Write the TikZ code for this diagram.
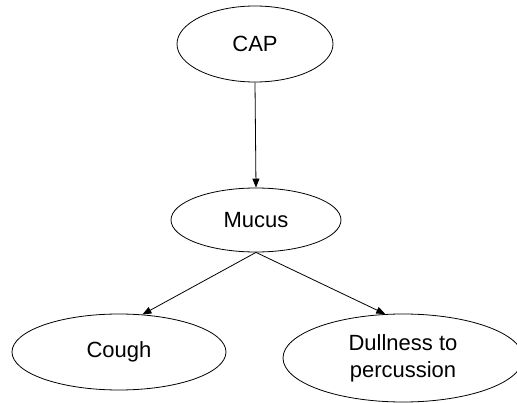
\documentclass[tikz,border=0pt]{standalone}
\usepackage{fontspec}
\setmainfont{Liberation Sans}
\usetikzlibrary{shapes.geometric,arrows.meta}
\begin{document}
\begin{tikzpicture}[x=1pt,y=-1pt,
  var/.style={draw,ellipse,line width=0.8pt,inner sep=0pt,align=center,
    font=\fontsize{22}{27}\selectfont},
  link/.style={line width=0.8pt,-{Triangle[length=9pt,width=7pt]}}]
\useasboundingbox (0,0) rectangle (517,403);
\node[var,minimum width=156,minimum height=76] (cap) at (255,44) {CAP};
\node[var,minimum width=170,minimum height=64] (mucus) at (256,220) {Mucus};
\node[var,minimum width=214,minimum height=76] (cough) at (119,352) {Cough};
\node[var,minimum width=240,minimum height=88] (dull) at (403,358) {Dullness to\\percussion};
\draw[link] (cap.south) -- (mucus.north);
\draw[link] (mucus.south) -- (cough.58);
\draw[link] (mucus.south) -- (dull.112);
\end{tikzpicture}
\end{document}
